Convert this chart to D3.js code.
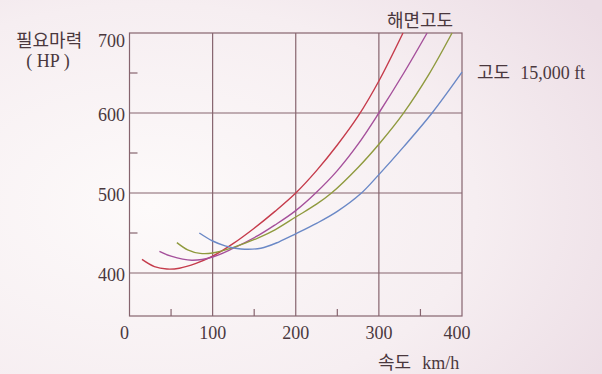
<!DOCTYPE html>
<html lang="ko">
<head>
<meta charset="utf-8">
<title>필요마력 - 속도</title>
<script src="https://cdn.jsdelivr.net/npm/d3@7"></script>
<style>
  html, body { margin: 0; padding: 0; }
  body { width: 602px; height: 374px; overflow: hidden; }
  .serif { font-family: "Liberation Serif", "DejaVu Serif", serif; }
  .kr { font-family: "Noto Sans CJK KR", "Noto Sans", sans-serif; }
</style>
</head>
<body>
<script>
// speeds (km/h) and required power (HP)
var seaLevel  = [[15,417],[30,408],[45,405],[60,406],[80,412],[100,421],[125,437],[150,456],[175,477],[200,500],[225,528],[250,560],[275,596],[300,640],[329,700]];
var alt5000   = [[36,427],[50,421],[75,416],[100,420],[125,431],[155,447],[175,460],[200,478],[224,500],[250,528],[275,561],[300,600],[330,650],[358,700]];
var alt10000  = [[57,438],[70,429],[85,424.5],[100,425],[125,432],[155,444],[175,454],[200,470],[225,486],[243,500],[275,532],[300,561],[329,599],[360,648],[388,700]];
var alt15000  = [[84,450],[100,440],[115,434],[134,430],[158,431],[180,439],[200,449],[225,462],[250,477],[278,499],[300,523],[330,558],[364,600],[400,651]];

var curves = [seaLevel, alt5000, alt10000, alt15000];
var curveColors = ["#c53b4b", "#a5509b", "#8f9a3e", "#6a88c6"];

var xMajor = [0, 100, 200, 300, 400];
var xMinor = [50, 150, 250, 350];
var yMajor = [400, 500, 600, 700];
var yMinor = [450, 550, 650];

var w = 602, h = 374;
var ink = "#86646e";
var textInk = "#4a383e";

var x = d3.scaleLinear().domain([0, 400]).range([129.5, 462]);
var y = d3.scaleLinear().domain([346.25, 700]).range([316, 33]);

var svg = d3.select("body").append("svg")
  .attr("width", w)
  .attr("height", h);

// paper background
var grad = svg.append("defs").append("radialGradient")
  .attr("id", "paper")
  .attr("cx", "0.25").attr("cy", "0.55").attr("r", "0.9");
grad.append("stop").attr("offset", "0%").attr("stop-color", "#fdfafa");
grad.append("stop").attr("offset", "60%").attr("stop-color", "#f6eef1");
grad.append("stop").attr("offset", "100%").attr("stop-color", "#ecdde5");

svg.append("rect")
  .attr("width", w).attr("height", h)
  .attr("fill", "url(#paper)");

// grid + frame
var grid = svg.append("g")
  .attr("stroke", ink)
  .attr("stroke-width", 1.2)
  .attr("fill", "none");

grid.append("rect")
  .attr("x", x(0)).attr("y", y(700))
  .attr("width", x(400) - x(0))
  .attr("height", y.range()[0] - y(700));

grid.selectAll("line.hg")
  .data(yMajor.filter(function(d) { return d < 700; }))
  .enter().append("line")
  .attr("x1", x(0)).attr("x2", x(400))
  .attr("y1", function(d) { return y(d); })
  .attr("y2", function(d) { return y(d); });

grid.selectAll("line.vg")
  .data(xMajor.filter(function(d) { return d > 0 && d < 400; }))
  .enter().append("line")
  .attr("x1", function(d) { return x(d); })
  .attr("x2", function(d) { return x(d); })
  .attr("y1", y(700)).attr("y2", y.range()[0]);

// minor ticks (inside)
grid.selectAll("line.ymt")
  .data(yMinor)
  .enter().append("line")
  .attr("x1", x(0)).attr("x2", x(0) + 8)
  .attr("y1", function(d) { return y(d); })
  .attr("y2", function(d) { return y(d); });

grid.selectAll("line.xmt")
  .data(xMinor)
  .enter().append("line")
  .attr("x1", function(d) { return x(d); })
  .attr("x2", function(d) { return x(d); })
  .attr("y1", y.range()[0]).attr("y2", y.range()[0] - 7);

// power curves
var line = d3.line()
  .x(function(d) { return x(d[0]); })
  .y(function(d) { return y(d[1]); })
  .curve(d3.curveCatmullRom.alpha(0.5));

svg.selectAll("path.curve")
  .data(curves)
  .enter().append("path")
  .attr("class", "curve")
  .attr("fill", "none")
  .attr("stroke", function(d, i) { return curveColors[i]; })
  .attr("stroke-width", 1.4)
  .attr("d", line);

// tick labels
svg.selectAll("text.yl")
  .data(yMajor)
  .enter().append("text")
  .attr("class", "serif")
  .attr("x", 125)
  .attr("y", function(d) { return y(d) + (d === 700 ? 14 : 8); })
  .attr("text-anchor", "end")
  .attr("font-size", 18)
  .attr("fill", textInk)
  .text(function(d) { return d; });

svg.selectAll("text.xl")
  .data(xMajor)
  .enter().append("text")
  .attr("class", "serif")
  .attr("x", function(d) { return x(d) - (d === 0 || d === 400 ? 5 : 0); })
  .attr("y", 339)
  .attr("text-anchor", "middle")
  .attr("font-size", 18)
  .attr("fill", textInk)
  .text(function(d) { return d; });

// titles
svg.append("text").attr("class", "kr")
  .attr("x", 16).attr("y", 46.5)
  .attr("font-size", 18).attr("fill", textInk)
  .text("필요마력");

svg.append("text").attr("class", "serif")
  .attr("x", 48).attr("y", 67)
  .attr("text-anchor", "middle")
  .attr("font-size", 18).attr("fill", textInk)
  .text("( HP )");

svg.append("text").attr("class", "kr")
  .attr("x", 420).attr("y", 26.5)
  .attr("text-anchor", "middle")
  .attr("font-size", 18).attr("fill", textInk)
  .text("해면고도");

var alt = svg.append("text")
  .attr("x", 477).attr("y", 78.5)
  .attr("font-size", 18).attr("fill", textInk);
alt.append("tspan").attr("class", "kr").text("고도");
alt.append("tspan").attr("class", "serif").attr("dx", 10).text("15,000 ft");

var xt = svg.append("text")
  .attr("x", 378).attr("y", 368.5)
  .attr("font-size", 18).attr("fill", textInk);
xt.append("tspan").attr("class", "kr").text("속도");
xt.append("tspan").attr("class", "serif").attr("dx", 11).text("km/h");
</script>
</body>
</html>
